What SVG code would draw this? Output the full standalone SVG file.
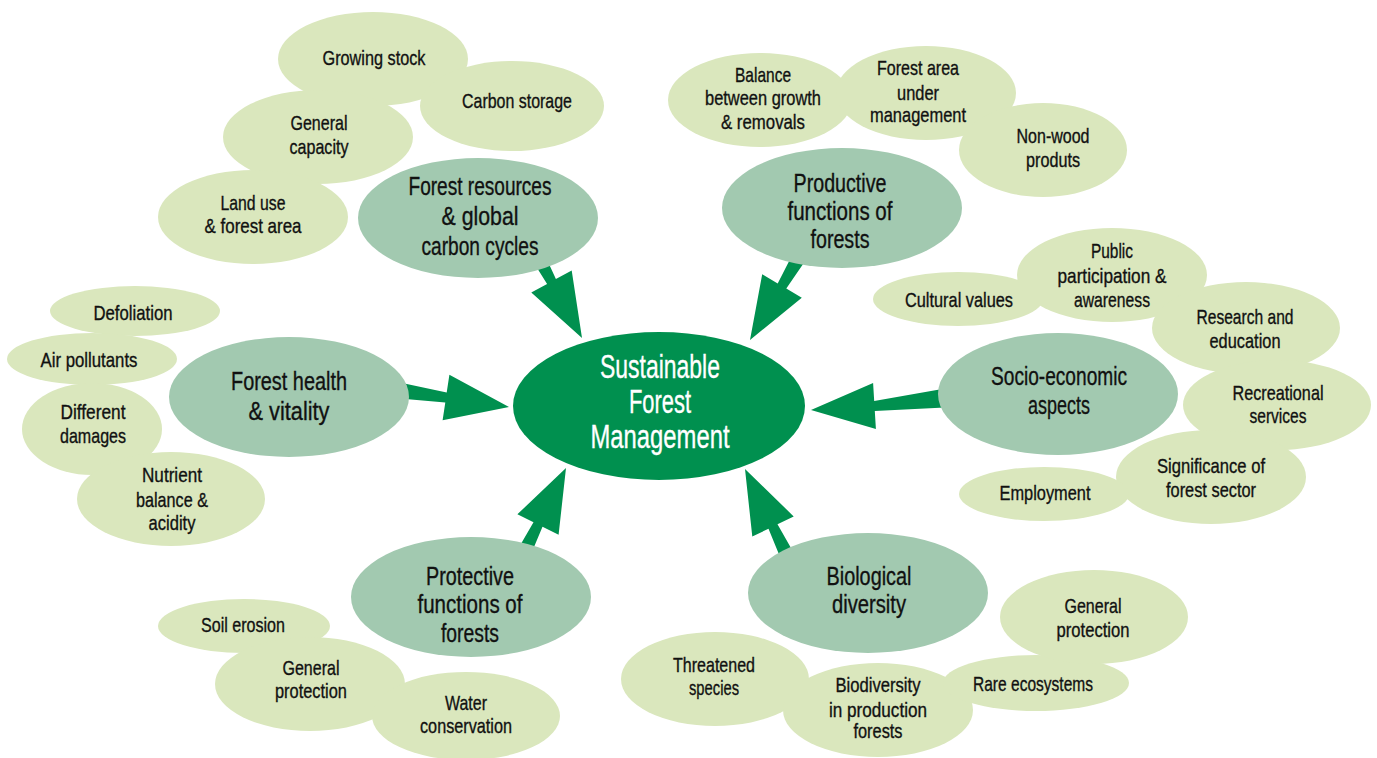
<svg xmlns="http://www.w3.org/2000/svg" width="1377" height="758" viewBox="0 0 1377 758">
<style>
.sm{fill:#dae7bd}
.mn{fill:#a2c9b0}
.ct{fill:#00904f}
.ar{fill:#00904f}
text{font-family:"Liberation Sans",Arial,sans-serif;text-anchor:middle;fill:#111;stroke:#111;stroke-width:0.35px}
.ts{font-size:21px}
.tm{font-size:26px}
.tc{font-size:33px;fill:#fff;stroke:#fff}
</style>
<rect width="1377" height="758" fill="#fff"/>
<g id="connectors">
<polygon class="ar" points="523.1,245.7 547.1,283.9 531.3,292.4 582,338 571.7,270.6 555.9,279.1 537.1,238.1"/>
<polygon class="ar" points="798.2,243.3 777.7,283.4 762.2,274.3 750,340 801.8,297.7 786.3,288.6 811.8,251.3"/>
<polygon class="ar" points="388,379.9 446.7,392.6 449.4,374.8 509,407 442.6,420.2 445.3,402.4 385.4,397.3"/>
<polygon class="ar" points="954.9,407 874.8,411 875.9,429 811,410 873.1,383 874.2,401 953.7,387"/>
<polygon class="ar" points="510.9,561.3 533.5,522.3 517.4,514.3 566,468 558.6,534.7 542.5,526.7 525.1,568.3"/>
<polygon class="ar" points="785.6,570.4 768.5,528.7 752.3,536.6 745,469 793.7,516.4 777.5,524.3 799.8,563.4"/>
</g>
<g id="small-nodes">
<g id="growing-stock"><ellipse class="sm" cx="373" cy="59" rx="95" ry="47"/><text class="ts" x="374" y="65" textLength="103" lengthAdjust="spacingAndGlyphs">Growing stock</text></g>
<g id="carbon-storage"><ellipse class="sm" cx="512" cy="106" rx="92" ry="45"/><text class="ts" x="517" y="108" textLength="110" lengthAdjust="spacingAndGlyphs">Carbon storage</text></g>
<g id="general-capacity"><ellipse class="sm" cx="318" cy="137" rx="95" ry="47"/><text class="ts" x="319" y="130" textLength="57" lengthAdjust="spacingAndGlyphs">General</text><text class="ts" x="319" y="154" textLength="59" lengthAdjust="spacingAndGlyphs">capacity</text></g>
<g id="land-use"><ellipse class="sm" cx="253" cy="217" rx="95" ry="47"/><text class="ts" x="253" y="210" textLength="65" lengthAdjust="spacingAndGlyphs">Land use</text><text class="ts" x="253" y="233" textLength="97" lengthAdjust="spacingAndGlyphs">&amp; forest area</text></g>
<g id="balance"><ellipse class="sm" cx="760" cy="100" rx="92" ry="47"/><text class="ts" x="763" y="82" textLength="56" lengthAdjust="spacingAndGlyphs">Balance</text><text class="ts" x="763" y="105" textLength="116" lengthAdjust="spacingAndGlyphs">between growth</text><text class="ts" x="763" y="129" textLength="84" lengthAdjust="spacingAndGlyphs">&amp; removals</text></g>
<g id="forest-area"><ellipse class="sm" cx="926" cy="93" rx="90" ry="47"/><text class="ts" x="918" y="75" textLength="82" lengthAdjust="spacingAndGlyphs">Forest area</text><text class="ts" x="918" y="100" textLength="42" lengthAdjust="spacingAndGlyphs">under</text><text class="ts" x="918" y="122" textLength="96" lengthAdjust="spacingAndGlyphs">management</text></g>
<g id="non-wood"><ellipse class="sm" cx="1043" cy="150" rx="84" ry="47"/><text class="ts" x="1053" y="143" textLength="73" lengthAdjust="spacingAndGlyphs">Non-wood</text><text class="ts" x="1053" y="167" textLength="54" lengthAdjust="spacingAndGlyphs">produts</text></g>
<g id="cultural-values"><ellipse class="sm" cx="958" cy="299" rx="85" ry="27"/><text class="ts" x="959" y="307" textLength="108" lengthAdjust="spacingAndGlyphs">Cultural values</text></g>
<g id="public-participation"><ellipse class="sm" cx="1112" cy="275" rx="95" ry="47"/><text class="ts" x="1112" y="258" textLength="42" lengthAdjust="spacingAndGlyphs">Public</text><text class="ts" x="1112" y="283" textLength="109" lengthAdjust="spacingAndGlyphs">participation &amp;</text><text class="ts" x="1112" y="307" textLength="76" lengthAdjust="spacingAndGlyphs">awareness</text></g>
<g id="research"><ellipse class="sm" cx="1246" cy="328" rx="94" ry="46"/><text class="ts" x="1245" y="324" textLength="97" lengthAdjust="spacingAndGlyphs">Research and</text><text class="ts" x="1245" y="348" textLength="71" lengthAdjust="spacingAndGlyphs">education</text></g>
<g id="recreational"><ellipse class="sm" cx="1277" cy="405" rx="94" ry="45"/><text class="ts" x="1278" y="400" textLength="91" lengthAdjust="spacingAndGlyphs">Recreational</text><text class="ts" x="1278" y="423" textLength="57" lengthAdjust="spacingAndGlyphs">services</text></g>
<g id="significance"><ellipse class="sm" cx="1211" cy="477" rx="95" ry="47"/><text class="ts" x="1211" y="473" textLength="108" lengthAdjust="spacingAndGlyphs">Significance of</text><text class="ts" x="1211" y="497" textLength="90" lengthAdjust="spacingAndGlyphs">forest sector</text></g>
<g id="employment"><ellipse class="sm" cx="1044" cy="494" rx="85" ry="27"/><text class="ts" x="1045" y="500" textLength="91" lengthAdjust="spacingAndGlyphs">Employment</text></g>
<g id="defoliation"><ellipse class="sm" cx="135" cy="311" rx="85" ry="25"/><text class="ts" x="133" y="320" textLength="79" lengthAdjust="spacingAndGlyphs">Defoliation</text></g>
<g id="air-pollutants"><ellipse class="sm" cx="92" cy="359" rx="85" ry="26"/><text class="ts" x="89" y="367" textLength="97" lengthAdjust="spacingAndGlyphs">Air pollutants</text></g>
<g id="different-damages"><ellipse class="sm" cx="92" cy="429" rx="70" ry="46"/><text class="ts" x="93" y="419" textLength="65" lengthAdjust="spacingAndGlyphs">Different</text><text class="ts" x="93" y="443" textLength="66" lengthAdjust="spacingAndGlyphs">damages</text></g>
<g id="nutrient"><ellipse class="sm" cx="171" cy="499" rx="94" ry="47"/><text class="ts" x="172" y="482" textLength="60" lengthAdjust="spacingAndGlyphs">Nutrient</text><text class="ts" x="172" y="507" textLength="72" lengthAdjust="spacingAndGlyphs">balance &amp;</text><text class="ts" x="172" y="530" textLength="47" lengthAdjust="spacingAndGlyphs">acidity</text></g>
<g id="soil-erosion"><ellipse class="sm" cx="244" cy="626" rx="86" ry="27"/><text class="ts" x="243" y="632" textLength="84" lengthAdjust="spacingAndGlyphs">Soil erosion</text></g>
<g id="general-protection-1"><ellipse class="sm" cx="310" cy="684" rx="95" ry="47"/><text class="ts" x="311" y="675" textLength="57" lengthAdjust="spacingAndGlyphs">General</text><text class="ts" x="311" y="698" textLength="72" lengthAdjust="spacingAndGlyphs">protection</text></g>
<g id="water-conservation"><ellipse class="sm" cx="466" cy="716" rx="94" ry="44"/><text class="ts" x="466" y="710" textLength="42" lengthAdjust="spacingAndGlyphs">Water</text><text class="ts" x="466" y="733" textLength="92" lengthAdjust="spacingAndGlyphs">conservation</text></g>
<g id="threatened-species"><ellipse class="sm" cx="715" cy="679" rx="94" ry="47"/><text class="ts" x="714" y="672" textLength="82" lengthAdjust="spacingAndGlyphs">Threatened</text><text class="ts" x="714" y="695" textLength="50" lengthAdjust="spacingAndGlyphs">species</text></g>
<g id="biodiversity-production"><ellipse class="sm" cx="878" cy="710" rx="95" ry="47"/><text class="ts" x="878" y="692" textLength="85" lengthAdjust="spacingAndGlyphs">Biodiversity</text><text class="ts" x="878" y="717" textLength="98" lengthAdjust="spacingAndGlyphs">in production</text><text class="ts" x="878" y="738" textLength="49" lengthAdjust="spacingAndGlyphs">forests</text></g>
<g id="rare-ecosystems"><ellipse class="sm" cx="1036" cy="683" rx="93" ry="28"/><text class="ts" x="1033" y="691" textLength="120" lengthAdjust="spacingAndGlyphs">Rare ecosystems</text></g>
<g id="general-protection-2"><ellipse class="sm" cx="1094" cy="617" rx="94" ry="47"/><text class="ts" x="1093" y="613" textLength="57" lengthAdjust="spacingAndGlyphs">General</text><text class="ts" x="1093" y="637" textLength="73" lengthAdjust="spacingAndGlyphs">protection</text></g>
</g>
<g id="forest-resources"><ellipse class="mn" cx="478" cy="218" rx="120" ry="60"/><text class="tm" x="480" y="195" textLength="143" lengthAdjust="spacingAndGlyphs">Forest resources</text><text class="tm" x="480" y="225" textLength="77" lengthAdjust="spacingAndGlyphs">&amp; global</text><text class="tm" x="480" y="255" textLength="117" lengthAdjust="spacingAndGlyphs">carbon cycles</text></g>
<g id="productive-functions"><ellipse class="mn" cx="842" cy="208" rx="120" ry="60"/><text class="tm" x="840" y="192" textLength="93" lengthAdjust="spacingAndGlyphs">Productive</text><text class="tm" x="840" y="220" textLength="105" lengthAdjust="spacingAndGlyphs">functions of</text><text class="tm" x="840" y="248" textLength="59" lengthAdjust="spacingAndGlyphs">forests</text></g>
<g id="forest-health"><ellipse class="mn" cx="289" cy="397" rx="120" ry="60"/><text class="tm" x="289" y="390" textLength="116" lengthAdjust="spacingAndGlyphs">Forest health</text><text class="tm" x="289" y="420" textLength="81" lengthAdjust="spacingAndGlyphs">&amp; vitality</text></g>
<g id="socio-economic"><ellipse class="mn" cx="1058" cy="394" rx="120" ry="61"/><text class="tm" x="1059" y="385" textLength="136" lengthAdjust="spacingAndGlyphs">Socio-economic</text><text class="tm" x="1059" y="414" textLength="62" lengthAdjust="spacingAndGlyphs">aspects</text></g>
<g id="protective-functions"><ellipse class="mn" cx="471" cy="597" rx="120" ry="60"/><text class="tm" x="470" y="585" textLength="88" lengthAdjust="spacingAndGlyphs">Protective</text><text class="tm" x="470" y="613" textLength="105" lengthAdjust="spacingAndGlyphs">functions of</text><text class="tm" x="470" y="642" textLength="58" lengthAdjust="spacingAndGlyphs">forests</text></g>
<g id="biological-diversity"><ellipse class="mn" cx="868" cy="593" rx="120" ry="60"/><text class="tm" x="869" y="585" textLength="85" lengthAdjust="spacingAndGlyphs">Biological</text><text class="tm" x="869" y="613" textLength="74" lengthAdjust="spacingAndGlyphs">diversity</text></g>
<g id="sustainable-forest-management"><ellipse class="ct" cx="659" cy="406" rx="146" ry="74"/><text class="tc" x="660" y="378" textLength="120" lengthAdjust="spacingAndGlyphs">Sustainable</text><text class="tc" x="660" y="413" textLength="62" lengthAdjust="spacingAndGlyphs">Forest</text><text class="tc" x="660" y="448" textLength="139" lengthAdjust="spacingAndGlyphs">Management</text></g>
</svg>
